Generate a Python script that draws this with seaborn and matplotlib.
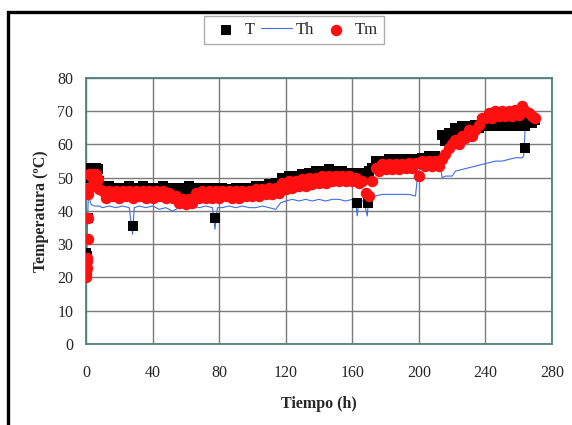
import numpy as np
import pandas as pd
import matplotlib
matplotlib.use("Agg")
import matplotlib.pyplot as plt
from matplotlib.patches import Rectangle
import seaborn as sns


# ---- data ----

# regular grid, every 2 h from 10 h to 270 h
# (readings alternate between the upper and lower edge of each band)
tiempo_grid = list(range(10, 271, 2))

T_grid = [
    47, 45, 47.5, 45, 47, 45.5, 47, 45, 47.5, 45,            # 10-28
    47, 45, 47.5, 45.5, 47, 45, 47, 45, 47.5, 45,            # 30-48
    47, 45, 47, 45.5, 47, 45.5, 47.5, 45.5, 47, 45,          # 50-68
    47, 45, 47, 45, 47, 45, 47, 45, 46.5, 45,                # 70-88
    47, 45, 47, 45, 47, 45.5, 47.5, 45.5, 47.5, 46,          # 90-108
    48, 46, 48.5, 46.5, 50, 48.5, 50.5, 48.5, 50.5, 48.5,    # 110-128
    51, 49.5, 51.5, 49.5, 52, 50, 52, 50, 52.5, 50.5,        # 130-148
    52, 50, 52, 50, 51.5, 50, 51.5, 49.5, 51.5, 49.5,        # 150-168
    52, 53, 55, 53, 55, 53.5, 55.5, 53.5, 55.5, 53.5,        # 170-188
    55.5, 53.5, 55.5, 53.5, 55.5, 54, 56, 54, 56.5, 54.5,    # 190-208
    56.5, 54.5, 63, 61, 63.5, 61.5, 65, 63.5, 65.5, 63.5,    # 210-228
    65.5, 64, 66, 65, 67, 65.5, 67, 65.5, 67, 65.5,          # 230-248
    67, 65.5, 67, 65.5, 67, 65.5, 67, 65.5, 67.5, 66.5,      # 250-268
    67.5,                                                    # 270
]

Tm_grid = [
    46, 44, 46, 44.5, 46, 44, 46, 44.5, 46, 44,              # 10-28
    46, 44.5, 46, 44, 46, 44, 46, 44.5, 46, 44,              # 30-48
    45.5, 44, 44.5, 42.5, 43.5, 42, 43.5, 42.5, 45.5, 44,    # 50-68
    46, 44, 46, 44, 46, 44, 46, 44.5, 46, 44,                # 70-88
    46, 44, 46, 44.5, 46, 44.5, 46.5, 44.5, 46.5, 45,        # 90-108
    47, 45, 47, 45.5, 48.5, 46.5, 49, 47, 49, 47.5,          # 110-128
    49.5, 47.5, 50, 48, 50, 48.5, 50.5, 48.5, 50.5, 49,      # 130-148
    50.5, 49, 50.5, 49, 50.5, 49, 50, 48.5, 49, 45.5,        # 150-168
    44.5, 49, 53, 52, 54, 52.5, 54, 52.5, 54, 52.5,          # 170-188
    54, 53, 54.5, 53, 54.5, 50.5, 55, 53.5, 55, 53.5,        # 190-208
    55, 53.5, 55.5, 57, 59, 60, 61.5, 60, 62.5, 62,          # 210-228
    64.5, 62.5, 64.5, 66, 68, 68, 69.5, 68, 70, 68.5,        # 230-248
    70, 68.5, 70, 68.5, 70.5, 69, 71.5, 70, 69.5, 68.5,      # 250-268
    68,                                                      # 270
]

# start-up (0-8 h) and isolated readings of T
T_extra_time = [0, 0.3, 0.6, 1, 1.5, 2, 3, 4, 5, 6, 7, 8, 28, 77.5, 163, 169.5, 264]
T_extra_val = [25.5, 27.5, 26.5, 38, 50, 52.5, 53, 53, 53, 53, 52.5, 49,
               35.5, 38, 42.5, 42.5, 59]

# start-up (0-8 h) of Tm
Tm_extra_time = [0, 0.2, 0.4, 0.6, 0.8, 1, 1.2, 1.5, 1.8, 2, 3, 3.5, 4, 5, 6, 7, 8]
Tm_extra_val = [20, 21.5, 23, 25, 26, 31.5, 38, 45, 47, 51, 50.5, 47.5, 51, 49,
                51, 49.5, 46.5]

# Th, thin line
Th_time = [0, 0.5, 1, 1.5, 2, 3, 5, 8, 10, 14, 18, 22, 26, 28, 29, 32, 36, 40,
           44, 48, 52, 56, 60, 64, 68, 72, 76, 77.5, 79, 82, 86, 90, 94, 98,
           102, 106, 110, 114, 117, 120, 124, 128, 132, 136, 140, 144, 148,
           152, 156, 160, 162, 163, 164, 167, 169, 170, 174, 178, 182, 186,
           190, 194, 198, 199.5, 202, 206, 210, 213, 214, 216, 220, 222, 226,
           230, 234, 238, 242, 246, 250, 254, 258, 262, 263, 264, 266, 268, 270]
Th_val = [20, 26, 38, 45, 44, 42, 41.5, 41.5, 41, 41.5, 41, 41.5, 41, 33, 41,
          41.5, 41, 41.5, 40.5, 41, 40, 41, 41, 41.5, 41, 41.5, 41, 34.5, 41,
          41, 41.5, 41, 41.5, 41, 41, 41.5, 41, 40.5, 42.5, 43, 43.5, 43, 43.5,
          43, 43.5, 43, 43.5, 43.5, 43, 43.5, 43, 38.5, 43, 43, 38.5, 44.5,
          44.5, 45, 45, 45, 45, 45, 44.5, 52, 53, 53.5, 53.5, 53.5, 50, 50.5,
          50.5, 52, 52.5, 53, 53.5, 54, 54.5, 55, 55, 55.5, 56, 56, 56.5, 66,
          66.5, 67, 67]

x_ticks = [0, 40, 80, 120, 160, 200, 240, 280]
y_ticks = [0, 10, 20, 30, 40, 50, 60, 70, 80]


def build_frames():
    df_T = pd.DataFrame({
        "tiempo": tiempo_grid + T_extra_time,
        "temp": T_grid + T_extra_val,
    })
    df_Tm = pd.DataFrame({
        "tiempo": tiempo_grid + Tm_extra_time,
        "temp": Tm_grid + Tm_extra_val,
    })
    df_Th = pd.DataFrame({"tiempo": Th_time, "temp": Th_val})
    return df_T, df_Th, df_Tm


def plot_temperatures(df_T, df_Th, df_Tm):
    sns.set_theme(style="white")
    plt.rcParams["font.family"] = ["Liberation Serif", "DejaVu Serif"]

    fig = plt.figure(figsize=(5.72, 4.25), dpi=100)
    ax = fig.add_axes([0.1503, 0.1906, 0.8147, 0.6259])

    # outer frame of the original figure (cut at right / bottom)
    fig.patches.append(Rectangle((8 / 572, -0.2), 1.2, 0.2 + 1 - 12 / 425,
                                 transform=fig.transFigure, fill=False,
                                 edgecolor="black", lw=2.4, clip_on=False))

    sns.lineplot(data=df_Th, x="tiempo", y="temp", ax=ax, color="#3f6fe0",
                 lw=0.8, sort=False, estimator=None, label="Th", zorder=2)
    sns.scatterplot(data=df_T, x="tiempo", y="temp", ax=ax, marker="s",
                    color="black", s=60, linewidth=0, label="T", zorder=3)
    sns.scatterplot(data=df_Tm, x="tiempo", y="temp", ax=ax, marker="o",
                    color="#ff1010", s=68, linewidth=0, label="Tm", zorder=4)

    ax.set_xlim(0, 280)
    ax.set_ylim(0, 80)
    ax.set_xticks(x_ticks)
    ax.set_yticks(y_ticks)
    ax.grid(True, color="#7a7a7a", lw=1.0)
    ax.set_axisbelow(True)
    for sp in ax.spines.values():
        sp.set_color("#4f8080")
        sp.set_linewidth(1.3)
    ax.tick_params(axis="both", direction="out", length=5, width=1,
                   color="#555555", labelsize=11.5, pad=4)
    ax.tick_params(axis="x", pad=10)

    ax.set_xlabel("Tiempo (h)", fontsize=11.5, fontweight="bold", labelpad=11)
    ax.set_ylabel("Temperatura (ºC)", fontsize=11.5, fontweight="bold", labelpad=6)

    handles, labels = ax.get_legend_handles_labels()
    ax.get_legend().remove()
    order = [labels.index(k) for k in ["T", "Th", "Tm"]]
    leg = fig.legend([handles[i] for i in order], [labels[i] for i in order],
                     loc="center", bbox_to_anchor=(0.514, 0.929), ncol=3,
                     frameon=True, fancybox=False, edgecolor="#999999",
                     fontsize=12, handlelength=1.9, handletextpad=0.2,
                     columnspacing=0.35, borderpad=0.35, markerscale=1.0)
    leg.get_frame().set_linewidth(1.0)

    fig.savefig("out.png", dpi=100)


df_T, df_Th, df_Tm = build_frames()
plot_temperatures(df_T, df_Th, df_Tm)
